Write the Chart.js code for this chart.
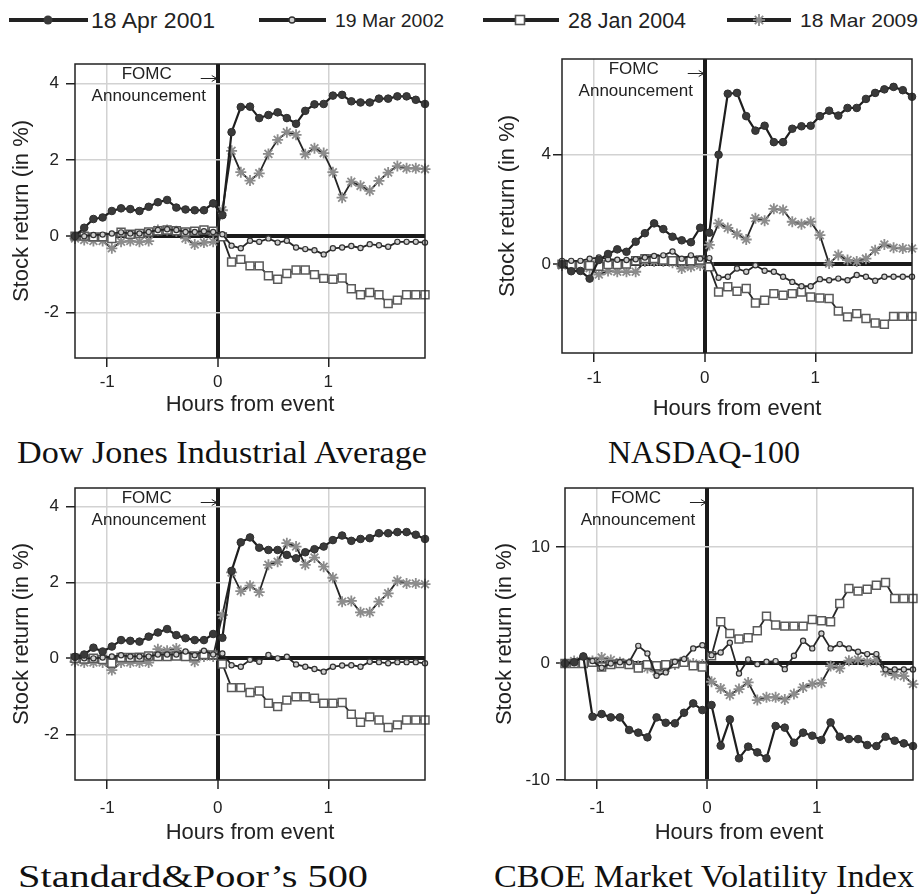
<!DOCTYPE html>
<html>
<head>
<meta charset="utf-8">
<script src="https://cdn.jsdelivr.net/npm/chart.js@4.4.1/dist/chart.umd.min.js"></script>
<style>
  html, body { margin: 0; padding: 0; background: #fff; }
  body { width: 922px; height: 895px; position: relative; overflow: hidden; }
  canvas { position: absolute; }
  svg { position: absolute; left: 0; top: 0; }
</style>
</head>
<body>
<svg width="922" height="895" font-family="'Liberation Sans', Arial, sans-serif" fill="#222">
  <!-- legend -->
  <line x1="9" y1="20" x2="88" y2="20" stroke="#222" stroke-width="4"/>
  <circle cx="48" cy="20" r="4.5" fill="#3a3a3a"/>
  <text x="91" y="28" font-size="22" textLength="124" lengthAdjust="spacingAndGlyphs">18 Apr 2001</text>

  <line x1="259" y1="20" x2="326" y2="20" stroke="#222" stroke-width="4"/>
  <circle cx="292" cy="20" r="3" fill="#cfcfcf" stroke="#333" stroke-width="1.3"/>
  <text x="335" y="27" font-size="19" textLength="109" lengthAdjust="spacingAndGlyphs">19 Mar 2002</text>

  <line x1="483" y1="20" x2="559" y2="20" stroke="#222" stroke-width="4"/>
  <rect x="515.5" y="15.5" width="9" height="9" fill="#fff" stroke="#555" stroke-width="1.6"/>
  <text x="568" y="28" font-size="22" textLength="118" lengthAdjust="spacingAndGlyphs">28 Jan 2004</text>

  <line x1="727" y1="20" x2="791" y2="20" stroke="#222" stroke-width="4"/>
  <g stroke="#8c8c8c" stroke-width="1.8">
    <line x1="753" y1="20" x2="765" y2="20"/><line x1="759" y1="14" x2="759" y2="26"/>
    <line x1="754.8" y1="15.8" x2="763.2" y2="24.2"/><line x1="754.8" y1="24.2" x2="763.2" y2="15.8"/>
  </g>
  <text x="800" y="27" font-size="19" textLength="118" lengthAdjust="spacingAndGlyphs">18 Mar 2009</text>

  <!-- captions -->
  <g font-family="'Liberation Serif', 'DejaVu Serif', serif" font-size="32" fill="#111">
    <text x="17" y="463" textLength="410" lengthAdjust="spacingAndGlyphs">Dow Jones Industrial Average</text>
    <text x="608" y="463" textLength="192" lengthAdjust="spacingAndGlyphs">NASDAQ-100</text>
    <text x="18" y="887" textLength="350" lengthAdjust="spacingAndGlyphs">Standard&amp;Poor’s 500</text>
    <text x="494" y="887" textLength="420" lengthAdjust="spacingAndGlyphs">CBOE Market Volatility Index</text>
  </g>
</svg>

<canvas id="c1" width="440" height="385" style="left:0px;top:40px"></canvas>
<canvas id="c2" width="452" height="385" style="left:470px;top:40px"></canvas>
<canvas id="c3" width="440" height="385" style="left:0px;top:465px"></canvas>
<canvas id="c4" width="452" height="385" style="left:470px;top:465px"></canvas>

<script>
// minutes from the FOMC announcement (mid-points of 5-minute intervals)
const minutes = [-77.5, -72.5, -67.5, -62.5, -57.5, -52.5, -47.5, -42.5, -37.5, -32.5, -27.5, -22.5, -17.5, -12.5, -7.5, -2.5,
  2.5, 7.5, 12.5, 17.5, 22.5, 27.5, 32.5, 37.5, 42.5, 47.5, 52.5, 57.5, 62.5, 67.5, 72.5, 77.5, 82.5, 87.5, 92.5, 97.5, 102.5, 107.5, 112.5];

const seriesLabels = ['18 Apr 2001', '19 Mar 2002', '28 Jan 2004', '18 Mar 2009'];
const xTicks = [-1, 0, 1];

// Dow Jones Industrial Average
const dowApr2001 = [0.00, 0.22, 0.45, 0.49, 0.66, 0.73, 0.71, 0.66, 0.77, 0.89, 0.95, 0.75, 0.70, 0.68, 0.68, 0.86,
  0.55, 2.73, 3.39, 3.40, 3.10, 3.18, 3.25, 3.10, 2.95, 3.29, 3.46, 3.47, 3.69, 3.71, 3.54, 3.51, 3.51, 3.61, 3.61, 3.67, 3.67, 3.58, 3.47];
const dowMar2002 = [0.00, 0.00, 0.03, 0.04, 0.07, 0.10, 0.07, 0.07, 0.11, 0.16, 0.18, 0.16, 0.11, 0.11, 0.13, 0.11,
  0.05, -0.25, -0.32, -0.12, -0.15, -0.06, -0.17, -0.12, -0.30, -0.34, -0.37, -0.48, -0.32, -0.30, -0.26, -0.31, -0.21, -0.24, -0.28, -0.15, -0.15, -0.15, -0.17];
const dowJan2004 = [0.00, 0.00, -0.02, -0.02, -0.06, 0.10, 0.05, 0.07, 0.11, 0.14, 0.16, 0.14, 0.11, 0.13, 0.16, 0.13,
  -0.02, -0.68, -0.61, -0.78, -0.78, -1.04, -1.13, -0.98, -0.89, -0.89, -1.01, -1.11, -1.13, -1.10, -1.38, -1.54, -1.48, -1.54, -1.77, -1.68, -1.54, -1.54, -1.54];
const dowMar2009 = [-0.06, -0.10, -0.13, -0.13, -0.32, -0.15, -0.13, -0.15, -0.13, 0.16, 0.16, 0.13, -0.06, -0.22, -0.17, -0.15,
  0.68, 2.24, 1.68, 1.46, 1.65, 2.16, 2.53, 2.73, 2.66, 2.15, 2.31, 2.18, 1.68, 1.01, 1.43, 1.32, 1.19, 1.45, 1.67, 1.84, 1.78, 1.78, 1.76];

// NASDAQ-100
const nasApr2001 = [0.00, -0.26, -0.25, -0.53, 0.15, 0.37, 0.54, 0.45, 0.82, 1.13, 1.49, 1.28, 1.00, 0.87, 0.80, 1.33,
  1.15, 4.00, 6.23, 6.26, 5.41, 4.88, 5.06, 4.46, 4.46, 4.95, 5.04, 5.06, 5.41, 5.61, 5.43, 5.71, 5.71, 6.04, 6.26, 6.39, 6.48, 6.36, 6.12];
const nasMar2002 = [0.12, 0.12, 0.12, 0.20, 0.24, 0.18, 0.16, 0.15, 0.18, 0.24, 0.30, 0.32, 0.46, 0.20, 0.32, 0.20,
  0.22, -0.50, -0.46, -0.16, -0.28, -0.04, -0.24, -0.28, -0.46, -0.65, -0.81, -0.81, -0.55, -0.59, -0.53, -0.59, -0.40, -0.46, -0.61, -0.46, -0.46, -0.46, -0.46];
const nasJan2004 = [0.00, -0.02, -0.05, -0.05, -0.08, -0.02, -0.02, 0.00, 0.12, 0.20, 0.20, 0.15, 0.12, 0.12, 0.12, 0.15,
  -0.10, -1.02, -0.83, -0.99, -0.89, -1.42, -1.32, -1.08, -1.14, -1.08, -1.02, -1.20, -1.24, -1.26, -1.72, -1.93, -1.81, -1.99, -2.15, -2.20, -1.91, -1.91, -1.91];
const nasMar2009 = [-0.05, -0.10, -0.12, -0.15, -0.38, -0.25, -0.28, -0.28, -0.28, 0.10, 0.10, 0.10, 0.05, -0.16, -0.10, -0.05,
  0.70, 1.49, 1.32, 1.10, 0.90, 1.68, 1.59, 2.02, 1.98, 1.55, 1.46, 1.55, 1.06, 0.02, 0.33, 0.15, 0.10, 0.20, 0.51, 0.72, 0.60, 0.57, 0.57];

// Standard&Poor's 500
const spApr2001 = [0.04, 0.10, 0.28, 0.18, 0.31, 0.48, 0.46, 0.44, 0.57, 0.68, 0.77, 0.61, 0.53, 0.48, 0.48, 0.64,
  0.54, 2.30, 3.05, 3.18, 2.91, 2.85, 2.85, 2.72, 2.63, 2.79, 2.87, 2.94, 3.11, 3.23, 3.09, 3.14, 3.16, 3.29, 3.29, 3.32, 3.32, 3.25, 3.14];
const spMar2002 = [0.02, 0.00, 0.00, 0.02, 0.05, 0.08, 0.05, 0.05, 0.05, 0.10, 0.10, 0.10, 0.18, 0.08, 0.20, 0.10,
  0.13, -0.18, -0.22, -0.04, -0.09, 0.09, 0.00, 0.04, -0.16, -0.22, -0.28, -0.35, -0.22, -0.19, -0.18, -0.22, -0.09, -0.10, -0.13, -0.10, -0.10, -0.10, -0.13];
const spJan2004 = [0.00, -0.02, 0.00, -0.03, -0.13, 0.02, 0.02, 0.03, 0.06, 0.05, 0.05, 0.06, 0.05, 0.06, 0.10, 0.09,
  -0.15, -0.77, -0.77, -0.90, -0.86, -1.18, -1.27, -1.10, -1.01, -1.01, -1.05, -1.18, -1.18, -1.16, -1.47, -1.68, -1.54, -1.62, -1.82, -1.75, -1.62, -1.62, -1.62];
const spMar2009 = [-0.09, -0.11, -0.11, -0.11, -0.31, -0.11, -0.11, -0.11, -0.11, 0.24, 0.20, 0.26, 0.10, -0.09, 0.05, 0.05,
  1.14, 2.26, 1.77, 1.91, 1.74, 2.46, 2.54, 3.03, 2.94, 2.46, 2.65, 2.41, 2.12, 1.49, 1.51, 1.21, 1.21, 1.49, 1.71, 2.04, 1.97, 1.97, 1.95];

// CBOE Market Volatility Index
const vixApr2001 = [0.00, 0.10, 0.60, -4.57, -4.34, -4.63, -4.63, -5.71, -5.94, -6.34, -4.63, -5.09, -5.14, -4.23, -3.43, -4.00,
  -3.57, -7.06, -4.80, -8.14, -7.14, -7.63, -8.14, -5.37, -5.51, -6.80, -5.94, -6.20, -6.57, -5.06, -6.29, -6.49, -6.49, -7.00, -7.09, -6.29, -6.63, -6.86, -7.09];
const vixMar2002 = [0.00, 0.10, 0.66, 0.20, -0.37, 0.00, 0.10, 0.10, 1.51, 0.86, -1.06, -0.77, 0.14, 0.37, 1.29, 1.57,
  0.71, 0.94, 1.77, -0.86, 0.34, -0.06, 0.14, 0.20, -0.49, 0.66, 1.94, 1.29, 2.57, 1.29, 1.66, 1.29, 1.00, 0.80, 0.80, -0.51, -0.51, -0.51, -0.51];
const vixJan2004 = [0.00, 0.00, 0.00, 0.10, -0.30, -0.10, 0.00, -0.10, -0.40, -0.10, -0.20, -0.10, 0.00, 0.10, -0.20, -0.30,
  0.66, 3.57, 2.57, 2.09, 2.20, 2.80, 4.06, 3.29, 3.20, 3.20, 3.20, 3.77, 3.66, 3.57, 5.14, 6.43, 6.20, 6.37, 6.71, 6.94, 5.57, 5.57, 5.57];
const vixMar2009 = [0.00, 0.20, 0.30, 0.20, 0.50, 0.30, 0.10, 0.00, -0.20, -0.40, -0.70, -0.40, -0.10, 0.20, 0.00, -0.10,
  -1.57, -2.14, -2.71, -2.20, -1.63, -3.14, -2.91, -2.91, -3.09, -2.63, -2.06, -1.77, -1.66, -0.23, -0.43, 0.23, 0.34, 0.14, 0.29, -0.71, -1.00, -1.09, -1.77];

const dowTicks = [-2, 0, 2, 4];
const nasTicks = [0, 4];
const spTicks = [-2, 0, 2, 4];
const vixTicks = [-10, 0, 10];

// marker / line looks, one per event date
const looks = [
  { shape: 'circle', r: 3.8, fill: '#3a3a3a', edge: '#2e2e2e', bw: 1, line: '#1e1e1e', lw: 2.2 },
  { shape: 'circle', r: 2.6, fill: '#cfcfcf', edge: '#333', bw: 1.2, line: '#262626', lw: 1.8 },
  { shape: 'rect', r: 5.6, fill: '#fff', edge: '#5a5a5a', bw: 1.5, line: '#262626', lw: 1.8 },
  { shape: 'star', r: 5.5, fill: '#8c8c8c', edge: '#8c8c8c', bw: 1.8, line: '#262626', lw: 1.8 }
];

const sans = "'Liberation Sans', Arial, sans-serif";
Chart.defaults.font.family = sans;
Chart.defaults.color = '#222';

// frame around the plot + the FOMC note with its arrow
const fomcNote = {
  id: 'fomcNote',
  afterDraw(chart) {
    const { ctx, chartArea: a } = chart;
    const x0 = chart.scales.x.getPixelForValue(0);
    ctx.save();
    ctx.strokeStyle = '#222';
    ctx.lineWidth = 1.5;
    ctx.strokeRect(a.left, a.top, a.right - a.left, a.bottom - a.top);
    ctx.fillStyle = '#222';
    ctx.font = '17px ' + sans;
    ctx.textAlign = 'center';
    ctx.textBaseline = 'middle';
    ctx.fillText('FOMC', x0 - 71, a.top + 10);
    ctx.fillText('Announcement', x0 - 69, a.top + 32);
    ctx.lineWidth = 1;
    ctx.beginPath();
    ctx.moveTo(x0 - 17, a.top + 14.5);
    ctx.lineTo(x0 - 1, a.top + 14.5);
    ctx.moveTo(x0 - 6, a.top + 11.5);
    ctx.lineTo(x0 - 1, a.top + 14.5);
    ctx.lineTo(x0 - 6, a.top + 17.5);
    ctx.stroke();
    ctx.restore();
  }
};

// light grid, with the zero lines drawn thick and black
function gridFor() {
  return {
    color: c => (c.tick && c.tick.value === 0) ? '#1a1a1a' : '#d2d2d2',
    lineWidth: c => (c.tick && c.tick.value === 0) ? 4 : 1.5,
    tickColor: '#222',
    tickWidth: 1.5,
    tickLength: 9
  };
}

function drawPanel(id, series, yMin, yMax, yTicks, lay) {
  const datasets = series.map((vals, k) => ({
    label: seriesLabels[k],
    data: vals.map((v, i) => ({ x: minutes[i] / 60, y: v })),
    borderColor: looks[k].line,
    borderWidth: looks[k].lw,
    pointStyle: looks[k].shape,
    pointRadius: looks[k].r,
    pointBackgroundColor: looks[k].fill,
    pointBorderColor: looks[k].edge,
    pointBorderWidth: looks[k].bw,
    tension: 0,
    clip: false
  }));

  new Chart(document.getElementById(id), {
    type: 'line',
    data: { datasets },
    plugins: [fomcNote],
    options: {
      responsive: false,
      animation: false,
      layout: { padding: lay.pad },
      plugins: { legend: { display: false }, tooltip: { enabled: false } },
      scales: {
        x: {
          type: 'linear',
          min: minutes[0] / 60,
          max: minutes[minutes.length - 1] / 60,
          afterBuildTicks: s => { s.ticks = xTicks.map(v => ({ value: v })); },
          afterFit: s => { s.height = lay.xh; },
          grid: gridFor(),
          border: { display: false },
          ticks: { font: { size: 17 }, color: '#222', padding: lay.xPad, callback: v => String(v) },
          title: { display: true, text: 'Hours from event', font: { size: 22 }, color: '#222', padding: 0 }
        },
        y: {
          min: yMin,
          max: yMax,
          afterBuildTicks: s => { s.ticks = yTicks.map(v => ({ value: v })); },
          afterFit: s => { s.width = lay.yw; },
          grid: gridFor(),
          border: { display: false },
          ticks: { font: { size: 17 }, color: '#222', padding: lay.yPad, callback: v => String(v) },
          title: { display: true, text: 'Stock return (in %)', font: { size: 22 }, color: '#222', padding: 0 }
        }
      }
    }
  });
}

drawPanel('c1', [dowApr2001, dowMar2002, dowJan2004, dowMar2009], -3.2, 4.52, dowTicks,
  { pad: { left: 9, right: 15, top: 24, bottom: 7 }, yw: 66, xh: 60, xPad: 5, yPad: 7 });
drawPanel('c2', [nasApr2001, nasMar2002, nasJan2004, nasMar2009], -3.25, 7.5, nasTicks,
  { pad: { left: 25, right: 10, top: 19, bottom: 3 }, yw: 67, xh: 69, xPad: 6, yPad: 2 });
drawPanel('c3', [spApr2001, spMar2002, spJan2004, spMar2009], -3.2, 4.48, spTicks,
  { pad: { left: 9, right: 15, top: 23, bottom: 4 }, yw: 66, xh: 66, xPad: 9, yPad: 7 });
drawPanel('c4', [vixApr2001, vixMar2002, vixJan2004, vixMar2009], -10, 15.05, vixTicks,
  { pad: { left: 22, right: 9, top: 23, bottom: 4 }, yw: 73, xh: 66, xPad: 9, yPad: 6 });
</script>
</body>
</html>
